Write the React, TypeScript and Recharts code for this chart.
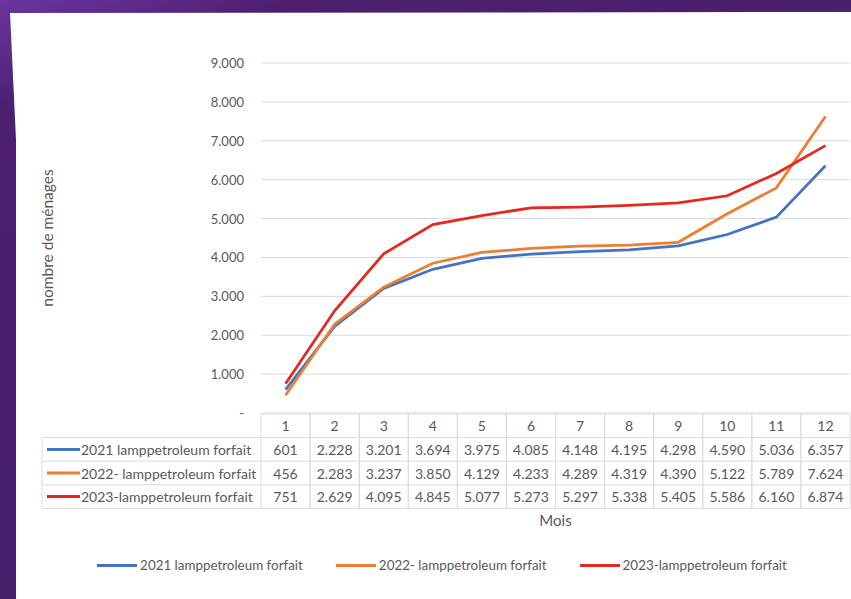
import React from 'react';
import { LineChart, Line, XAxis, YAxis, CartesianGrid, Legend } from 'recharts';

const months = ['1', '2', '3', '4', '5', '6', '7', '8', '9', '10', '11', '12'];
const s2021 = [601, 2228, 3201, 3694, 3975, 4085, 4148, 4195, 4298, 4590, 5036, 6357];
const s2022 = [456, 2283, 3237, 3850, 4129, 4233, 4289, 4319, 4390, 5122, 5789, 7624];
const s2023 = [751, 2629, 4095, 4845, 5077, 5273, 5297, 5338, 5405, 5586, 6160, 6874];
const seriesNames = ['2021 lamppetroleum forfait', '2022- lamppetroleum forfait', '2023-lamppetroleum forfait'];
const seriesKeys = ['s2021', 's2022', 's2023'];
const seriesColors = ['#4472C4', '#ED7D31', '#E4281D'];
const seriesValues = [s2021, s2022, s2023];
const yTicks = [0, 1000, 2000, 3000, 4000, 5000, 6000, 7000, 8000, 9000];

const data = months.map((m, i) => ({ month: m, s2021: s2021[i], s2022: s2022[i], s2023: s2023[i] }));

const FONT = 'Lato, "Open Sans", sans-serif';
const TEXT = '#595959';
const BORDER = '#dcdcdc';
const ROW_H = 23.6;
const LEGEND_COL_W = 219;
const TABLE_FS = 14;

const fmt = (v: number) => (v === 0 ? '-' : String(v).replace(/\B(?=(\d{3})+(?!\d))/g, '.'));

const YTick = (props: any) => {
  const { x, y, payload } = props;
  return (
    <text x={x} y={y} textAnchor="end" dominantBaseline="central" fontFamily={FONT} fontSize={13} fill={TEXT}>
      {fmt(payload.value)}
    </text>
  );
};

const TableTick = (props: any) => {
  const { x, y, payload, index, width } = props;
  const colW = (width && width > 100 ? width : 589) / months.length;
  const top = y + 1;
  const left = x - colW / 2;
  const right = x + colW / 2;
  const bottom = top + ROW_H * 4;
  const cells = seriesValues.map((vals, r) => (
    <text
      key={r}
      x={x}
      y={top + ROW_H * (r + 1.5)}
      textAnchor="middle"
      dominantBaseline="central"
      fontFamily={FONT}
      fontSize={TABLE_FS}
      fill={TEXT}
    >
      {fmt(vals[index])}
    </text>
  ));
  const legendCol =
    index === 0 ? (
      <g>
        <line x1={left - LEGEND_COL_W} x2={left} y1={top + ROW_H} y2={top + ROW_H} stroke={BORDER} />
        <line x1={left - LEGEND_COL_W} x2={left} y1={top + ROW_H * 2} y2={top + ROW_H * 2} stroke={BORDER} />
        <line x1={left - LEGEND_COL_W} x2={left} y1={top + ROW_H * 3} y2={top + ROW_H * 3} stroke={BORDER} />
        <line x1={left - LEGEND_COL_W} x2={left} y1={bottom} y2={bottom} stroke={BORDER} />
        <line x1={left - LEGEND_COL_W} x2={left - LEGEND_COL_W} y1={top + ROW_H} y2={bottom} stroke={BORDER} />
        {seriesNames.map((n, r) => (
          <g key={n}>
            <line
              x1={left - LEGEND_COL_W + 5}
              x2={left - LEGEND_COL_W + 38}
              y1={top + ROW_H * (r + 1.5)}
              y2={top + ROW_H * (r + 1.5)}
              stroke={seriesColors[r]}
              strokeWidth={3}
            />
            <text
              x={left - LEGEND_COL_W + 39}
              y={top + ROW_H * (r + 1.5)}
              dominantBaseline="central"
              fontFamily={FONT}
              fontSize={TABLE_FS}
              fill={TEXT}
            >
              {n}
            </text>
          </g>
        ))}
      </g>
    ) : null;
  return (
    <g>
      {legendCol}
      <line x1={left} x2={right} y1={top} y2={top} stroke={BORDER} />
      <line x1={left} x2={right} y1={top + ROW_H} y2={top + ROW_H} stroke={BORDER} />
      <line x1={left} x2={right} y1={top + ROW_H * 2} y2={top + ROW_H * 2} stroke={BORDER} />
      <line x1={left} x2={right} y1={top + ROW_H * 3} y2={top + ROW_H * 3} stroke={BORDER} />
      <line x1={left} x2={right} y1={bottom} y2={bottom} stroke={BORDER} />
      <line x1={left} x2={left} y1={top} y2={bottom} stroke={BORDER} />
      <line x1={right} x2={right} y1={top} y2={bottom} stroke={BORDER} />
      <text
        x={x}
        y={top + ROW_H * 0.5}
        textAnchor="middle"
        dominantBaseline="central"
        fontFamily={FONT}
        fontSize={TABLE_FS}
        fill={TEXT}
      >
        {payload.value}
      </text>
      {cells}
    </g>
  );
};

const LegendContent = () => (
  <div
    style={{
      display: 'flex',
      justifyContent: 'center',
      gap: 33,
      fontFamily: FONT,
      fontSize: 13.4,
      color: TEXT,
      paddingLeft: 33,
    }}
  >
    {seriesNames.map((n, i) => (
      <div key={n} style={{ display: 'flex', alignItems: 'center' }}>
        <div style={{ width: 40, height: 3, background: seriesColors[i], marginRight: 3 }} />
        <span>{n}</span>
      </div>
    ))}
  </div>
);

export default function App() {
  return (
    <div style={{ position: 'absolute', left: 0, top: 0, width: 851, height: 599, overflow: 'hidden' }}>
      <div
        style={{
          position: 'absolute',
          inset: 0,
          background: 'linear-gradient(160deg, #6a36a2 0%, #4c206f 12%, #46206a 60%, #3b1a5e 100%)',
        }}
      />
      <div
        style={{
          position: 'absolute',
          inset: 0,
          background: '#ffffff',
          clipPath: 'polygon(10px 13px, 851px 12px, 851px 599px, 16px 599px, 16px 140px)',
        }}
      />
      <div style={{ position: 'absolute', left: 0, top: 0 }}>
        <LineChart width={851} height={599} data={data} margin={{ top: 63, right: 1, bottom: 73, left: 36 }}>
          <CartesianGrid vertical={false} stroke="#d9d9d9" />
          <XAxis
            dataKey="month"
            axisLine={false}
            tickLine={false}
            tickSize={0}
            tickMargin={0}
            height={113}
            interval={0}
            padding={{ left: 24.55, right: 24.55 }}
            tick={<TableTick />}
            label={{ value: 'Mois', position: 'insideBottom', offset: 0, fill: TEXT, fontFamily: FONT, fontSize: 15 }}
          />
          <YAxis
            width={225}
            domain={[0, 9000]}
            ticks={yTicks}
            axisLine={false}
            tickLine={false}
            tickSize={0}
            tickMargin={17}
            tick={<YTick />}
            label={{
              value: 'nombre de ménages',
              angle: -90,
              position: 'insideLeft',
              offset: 11,
              fill: TEXT,
              fontFamily: FONT,
              fontSize: 15.5,
              style: { textAnchor: 'middle' },
            }}
          />
          <Legend
            layout="horizontal"
            verticalAlign="middle"
            align="center"
            wrapperStyle={{ position: 'absolute', top: 557, left: 0, width: 851 }}
            content={<LegendContent />}
          />
          {seriesKeys.map((k, i) => (
            <Line
              key={k}
              type="linear"
              dataKey={k}
              name={seriesNames[i]}
              stroke={seriesColors[i]}
              strokeWidth={2.75}
              dot={false}
              activeDot={false}
              isAnimationActive={false}
            />
          ))}
        </LineChart>
      </div>
    </div>
  );
}
